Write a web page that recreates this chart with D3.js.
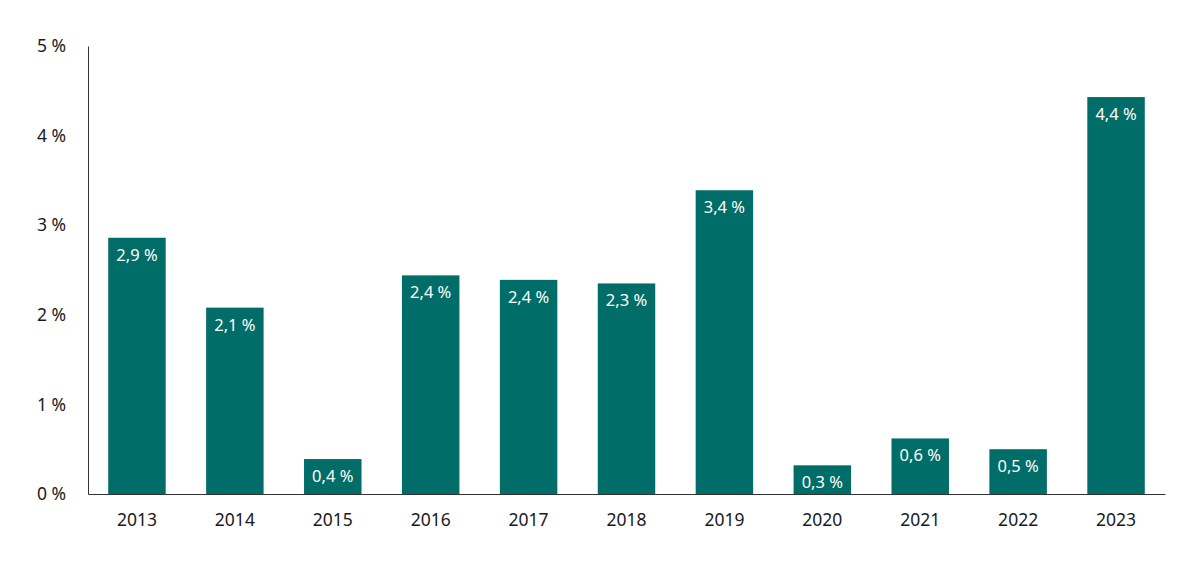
<!DOCTYPE html>
<html><head><meta charset="utf-8">
<script src="https://cdn.jsdelivr.net/npm/d3@7"></script>
<style>body{margin:0;background:#fff;} text{font-family:"Noto Sans",sans-serif;}</style>
</head><body>
<svg id="c" width="1200" height="569"></svg>
<script>
const years = ["2013","2014","2015","2016","2017","2018","2019","2020","2021","2022","2023"];
const values = [2.86, 2.08, 0.39, 2.44, 2.39, 2.35, 3.39, 0.32, 0.62, 0.50, 4.43];
const labels = ["2,9 %","2,1 %","0,4 %","2,4 %","2,4 %","2,3 %","3,4 %","0,3 %","0,6 %","0,5 %","4,4 %"];
const yTicks = [0,1,2,3,4,5];
const yTickLabels = ["0 %","1 %","2 %","3 %","4 %","5 %"];

(function(){
const svg = d3.select("#c");
const mL=88, mR=1165, mT=46, mB=494;
const x = d3.scaleBand().domain(years).range([mL,mR]).paddingInner(0.413).paddingOuter(0.2065);
const y = d3.scaleLinear().domain([0,5]).range([mB,mT]);
const color = "#006d68";

svg.selectAll("rect.bar").data(years).enter().append("rect")
  .attr("x", d=>x(d)).attr("width", x.bandwidth())
  .attr("y", (d,i)=>y(values[i])).attr("height",(d,i)=>mB-y(values[i]))
  .attr("fill", color);

svg.selectAll("text.lbl").data(years).enter().append("text")
  .attr("x", d=>x(d)+x.bandwidth()/2).attr("y",(d,i)=>y(values[i])+23)
  .attr("text-anchor","middle").attr("fill","#fff").attr("font-size",16.5)
  .text((d,i)=>labels[i]);

const yAxis = d3.axisLeft(y).tickValues(yTicks).tickFormat((d,i)=>yTickLabels[i]).tickSize(0).tickPadding(22);
const gy = svg.append("g").attr("transform",`translate(${mL},0)`).call(yAxis);
gy.select(".domain").attr("stroke","#333").attr("stroke-width",1);
gy.selectAll("text").attr("font-size",17.5).attr("fill","#1a1a1a").attr("font-family","Noto Sans");

const xAxis = d3.axisBottom(x).tickSize(0).tickPadding(20);
const gx = svg.append("g").attr("transform",`translate(0,${mB})`).call(xAxis);
gx.select(".domain").attr("stroke","#333").attr("stroke-width",1);
gx.selectAll("text").attr("font-size",17.5).attr("fill","#1a1a1a").attr("font-family","Noto Sans");
})();
</script>
</body></html>
